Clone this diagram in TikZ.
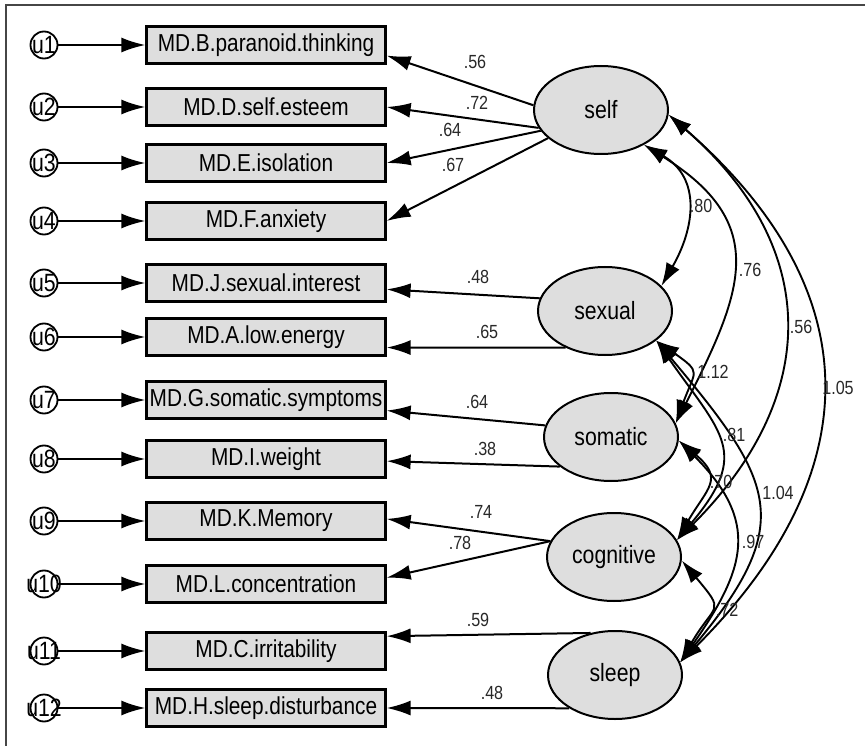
\documentclass[tikz,border=0pt]{standalone}
\usepackage{fontspec}
\setmainfont[FakeStretch=0.85]{Liberation Sans}
\usepackage{tikz}
\usetikzlibrary{arrows.meta,shapes.geometric}
\definecolor{boxgray}{RGB}{222,222,222}
\definecolor{framegray}{RGB}{70,70,70}
\definecolor{labgray}{RGB}{40,40,40}

\begin{document}
\begin{tikzpicture}[x=1pt,y=-1pt]
% Diagram style
\tikzset{
    item/.style={draw,line width=2.2pt,fill=boxgray,minimum width=239pt,minimum height=37pt,inner sep=0pt,font=\fontsize{24.5}{28}\selectfont},
    factor/.style={ellipse,draw,line width=2pt,fill=boxgray,minimum width=134pt,minimum height=88pt,inner sep=0pt,font=\fontsize{25}{28}\selectfont},
    err/.style={circle,draw,line width=1.8pt,minimum size=27pt,inner sep=0pt},
    ulab/.style={font=\fontsize{25}{28}\selectfont,inner sep=0pt},
    wlab/.style={font=\fontsize{19}{22}\selectfont,text=labgray,inner sep=0pt},
    loading/.style={-{Latex[length=24pt,width=15pt]},line width=2pt},
    cov/.style={{Latex[length=23pt,width=15pt]}-{Latex[length=23pt,width=15pt]},line width=1.9pt}
}
\useasboundingbox (0,0) rectangle (865,746);
\draw[line width=2pt,framegray] (6,746) -- (6,5) -- (865,5);
% Observed items
\node[item] (mdB) at (266,45) {MD.B.paranoid.thinking};
\node[item] (mdD) at (266,107) {MD.D.self.esteem};
\node[item] (mdE) at (266,163) {MD.E.isolation};
\node[item] (mdF) at (266,221) {MD.F.anxiety};
\node[item] (mdJ) at (266,283) {MD.J.sexual.interest};
\node[item] (mdA) at (266,337) {MD.A.low.energy};
\node[item] (mdG) at (266,400) {MD.G.somatic.symptoms};
\node[item] (mdI) at (266,459) {MD.I.weight};
\node[item] (mdK) at (266,521) {MD.K.Memory};
\node[item] (mdL) at (266,584) {MD.L.concentration};
\node[item] (mdC) at (266,651) {MD.C.irritability};
\node[item] (mdH) at (266,708) {MD.H.sleep.disturbance};
% Error terms
\node[err,label={[ulab]center:u1}] (u1) at (44,45){};
\node[err,label={[ulab]center:u2}] (u2) at (44,107){};
\node[err,label={[ulab]center:u3}] (u3) at (44,163){};
\node[err,label={[ulab]center:u4}] (u4) at (44,221){};
\node[err,label={[ulab]center:u5}] (u5) at (44,283){};
\node[err,label={[ulab]center:u6}] (u6) at (44,337){};
\node[err,label={[ulab]center:u7}] (u7) at (44,400){};
\node[err,label={[ulab]center:u8}] (u8) at (44,459){};
\node[err,label={[ulab]center:u9}] (u9) at (44,521){};
\node[err,label={[ulab]center:u10}] (u10) at (44,584){};
\node[err,label={[ulab]center:u11}] (u11) at (44,651){};
\node[err,label={[ulab]center:u12}] (u12) at (44,708){};
\draw[loading] (u1) -- (mdB);
\draw[loading] (u2) -- (mdD);
\draw[loading] (u3) -- (mdE);
\draw[loading] (u4) -- (mdF);
\draw[loading] (u5) -- (mdJ);
\draw[loading] (u6) -- (mdA);
\draw[loading] (u7) -- (mdG);
\draw[loading] (u8) -- (mdI);
\draw[loading] (u9) -- (mdK);
\draw[loading] (u10) -- (mdL);
\draw[loading] (u11) -- (mdC);
\draw[loading] (u12) -- (mdH);
% Latent factors
\node[factor] (self) at (601,110) {self};
\node[factor] (sexual) at (605,311) {sexual};
\node[factor] (somatic) at (611,437) {somatic};
\node[factor] (cognitive) at (614,557) {cognitive};
\node[factor] (sleep) at (615,675) {sleep};
% Loadings
\draw[loading] (self.176) -- (mdB.-5);
\draw[loading] (self.196) -- (mdD.east);
\draw[loading] (self.199) -- (mdE.east);
\draw[loading] (self.208) -- (mdF.east);
\draw[loading] (sexual.169) -- (mdJ.-3);
\draw[loading] (sexual.223) -- (mdA.-5);
\draw[loading] (somatic.170) -- (mdG.-5);
\draw[loading] (somatic.210) -- (mdI.-1);
\draw[loading] (cognitive.166) -- (mdK.1);
\draw[loading] (cognitive.166) -- (mdL.3);
\draw[loading] (sleep.120) -- (mdC.7);
\draw[loading] (sleep.216) -- (mdH.east);
\node[wlab] (wB) at (475,62) {.56};
\node[wlab] (wD) at (477,103) {.72};
\node[wlab] (wE) at (450,130) {.64};
\node[wlab] (wF) at (453,165) {.67};
\node[wlab] (wJ) at (478,277) {.48};
\node[wlab] (wA) at (487,332) {.65};
\node[wlab] (wG) at (477,402) {.64};
\node[wlab] (wI) at (485,449) {.38};
\node[wlab] (wK) at (481,512) {.74};
\node[wlab] (wL) at (460,543) {.78};
\node[wlab] (wC) at (478,620) {.59};
\node[wlab] (wH) at (492,693) {.48};
% Covariances
\draw[cov] (self.-39) to[out=-30,in=60,looseness=1.2] (sexual.24);
\draw[cov] (self.-39) to[out=-32,in=63,looseness=1.36] (somatic.12);
\draw[cov] (self.-4) to[out=-41,in=45,looseness=1.22] (cognitive.15);
\draw[cov] (self.-4) to[out=-41,in=45,looseness=1.25] (sleep.11);
\draw[cov] (sexual.-30) to[out=-35,in=70,looseness=1.7] (somatic.12);
\draw[cov] (sexual.-30) to[out=-55,in=50,looseness=1.46] (cognitive.15);
\draw[cov] (sexual.-30) to[out=-50,in=50,looseness=1.45] (sleep.11);
\draw[cov] (somatic.-3) to[out=-40,in=60,looseness=1.54] (cognitive.15);
\draw[cov] (somatic.-3) to[out=-45,in=55,looseness=1.32] (sleep.11);
\draw[cov] (cognitive.-3) to[out=-50,in=60,looseness=1.75] (sleep.11);
\node[wlab] (cSx) at (701,206) {.80};
\node[wlab] (cSo) at (750,270) {.76};
\node[wlab] (cSc) at (801,327) {.56};
\node[wlab] (cSs) at (838,388) {1.05};
\node[wlab] (cXo) at (713,372) {1.12};
\node[wlab] (cXc) at (734,435) {.81};
\node[wlab] (cXs) at (778,493) {1.04};
\node[wlab] (cOc) at (721,482) {.70};
\node[wlab] (cOs) at (753,542) {.97};
\node[wlab] (cCs) at (727,610) {.72};
\end{tikzpicture}
\end{document}
